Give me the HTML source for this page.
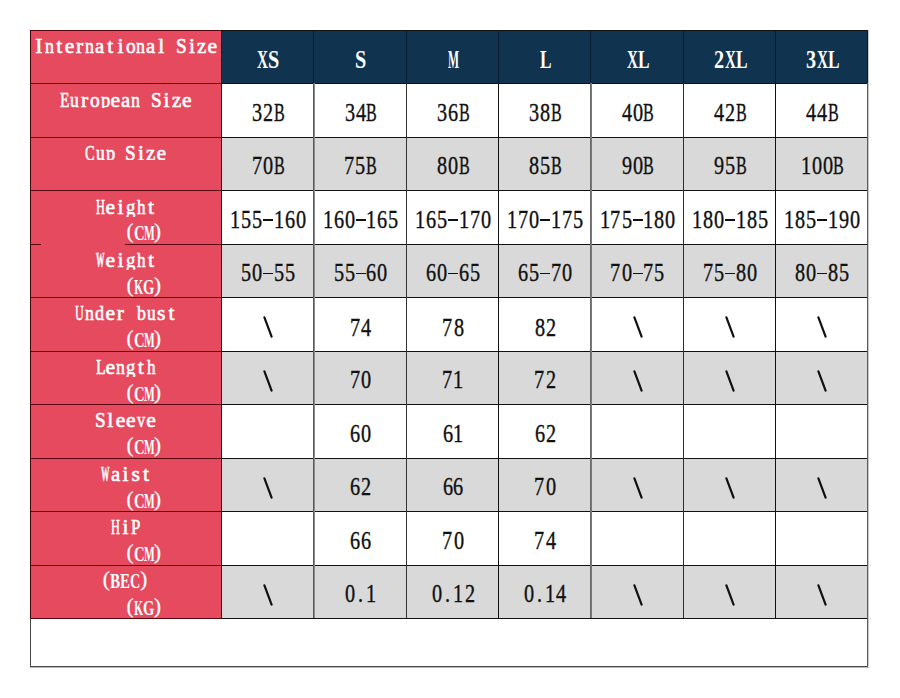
<!DOCTYPE html><html><head><meta charset="utf-8"><style>
html,body{margin:0;padding:0;background:#fff;width:900px;height:698px;overflow:hidden}
div{position:absolute}
.t{white-space:nowrap;line-height:1;height:1em}
.t span{position:absolute;top:0;display:block;text-align:center}
.t i{font-style:normal;display:inline-block}
.s{font-family:"Liberation Serif",serif}
</style></head><body>

<div style="left:30px;top:30px;width:191px;height:588px;background:#E54A5E"></div>
<div style="left:221px;top:30px;width:646px;height:53px;background:#10334F"></div>
<div style="left:221px;top:137px;width:646px;height:53px;background:#D9D9D9"></div>
<div style="left:221px;top:244px;width:646px;height:53px;background:#D9D9D9"></div>
<div style="left:221px;top:351px;width:646px;height:53px;background:#D9D9D9"></div>
<div style="left:221px;top:458px;width:646px;height:53px;background:#D9D9D9"></div>
<div style="left:221px;top:565px;width:646px;height:53px;background:#D9D9D9"></div>
<div style="left:30px;top:30px;width:192px;height:1px;background:#5a0610"></div>
<div style="left:221px;top:30px;width:647px;height:1px;background:#111"></div>
<div style="left:30px;top:83px;width:192px;height:1px;background:#5a0610"></div>
<div style="left:221px;top:83px;width:647px;height:1px;background:#111"></div>
<div style="left:30px;top:137px;width:192px;height:1px;background:#5a0610"></div>
<div style="left:221px;top:137px;width:647px;height:1px;background:#111"></div>
<div style="left:30px;top:190px;width:192px;height:1px;background:#5a0610"></div>
<div style="left:221px;top:190px;width:647px;height:1px;background:#111"></div>
<div style="left:30px;top:244px;width:11px;height:1px;background:#5a0610"></div>
<div style="left:125px;top:244px;width:97px;height:1px;background:#5a0610"></div>
<div style="left:221px;top:244px;width:647px;height:1px;background:#111"></div>
<div style="left:30px;top:297px;width:192px;height:1px;background:#5a0610"></div>
<div style="left:221px;top:297px;width:647px;height:1px;background:#111"></div>
<div style="left:30px;top:351px;width:192px;height:1px;background:#5a0610"></div>
<div style="left:221px;top:351px;width:647px;height:1px;background:#111"></div>
<div style="left:30px;top:404px;width:192px;height:1px;background:#5a0610"></div>
<div style="left:221px;top:404px;width:647px;height:1px;background:#111"></div>
<div style="left:30px;top:458px;width:192px;height:1px;background:#5a0610"></div>
<div style="left:221px;top:458px;width:647px;height:1px;background:#111"></div>
<div style="left:30px;top:511px;width:192px;height:1px;background:#5a0610"></div>
<div style="left:221px;top:511px;width:647px;height:1px;background:#111"></div>
<div style="left:30px;top:565px;width:192px;height:1px;background:#5a0610"></div>
<div style="left:221px;top:565px;width:647px;height:1px;background:#111"></div>
<div style="left:30px;top:618px;width:192px;height:1px;background:#5a0610"></div>
<div style="left:221px;top:618px;width:647px;height:1px;background:#111"></div>
<div style="left:30px;top:30px;width:1px;height:588px;background:#3e0509"></div>
<div style="left:221px;top:30px;width:1px;height:588px;background:#3e0509"></div>
<div style="left:313px;top:30px;width:1px;height:53px;background:#081a30"></div>
<div style="left:313px;top:83px;width:1px;height:535px;background:#5a5a5a"></div>
<div style="left:314px;top:83px;width:1px;height:535px;background:#8a8a8a"></div>
<div style="left:406px;top:30px;width:1px;height:53px;background:#081a30"></div>
<div style="left:406px;top:83px;width:1px;height:535px;background:#333"></div>
<div style="left:498px;top:30px;width:1px;height:53px;background:#081a30"></div>
<div style="left:498px;top:83px;width:1px;height:535px;background:#111"></div>
<div style="left:590px;top:30px;width:1px;height:53px;background:#081a30"></div>
<div style="left:590px;top:83px;width:1px;height:535px;background:#6a6a6a"></div>
<div style="left:591px;top:83px;width:1px;height:535px;background:#7a7a7a"></div>
<div style="left:683px;top:30px;width:1px;height:53px;background:#081a30"></div>
<div style="left:683px;top:83px;width:1px;height:535px;background:#2e2e2e"></div>
<div style="left:775px;top:30px;width:1px;height:53px;background:#081a30"></div>
<div style="left:775px;top:83px;width:1px;height:535px;background:#111"></div>
<div style="left:867px;top:30px;width:1px;height:53px;background:#081a30"></div>
<div style="left:867px;top:83px;width:1px;height:535px;background:#5c5c5c"></div>
<div style="left:868px;top:30px;width:1px;height:636px;background:#c8c8c8"></div>
<div style="left:30px;top:618px;width:1px;height:49px;background:#444"></div>
<div style="left:867px;top:618px;width:1px;height:49px;background:#5c5c5c"></div>
<div style="left:30px;top:666px;width:838px;height:1px;background:#4a4a4a"></div>
<div style="left:30px;top:667px;width:839px;height:1px;background:#b8b8b8"></div>
<div class="t" style="left:257.30px;top:47.92px;font-family:'Liberation Serif',serif;font-size:24.4px;font-weight:700;color:#fff;"><span style="left:-0.08px;transform-origin:0 0;transform:scale(0.622,1.0)">X</span><span style="left:10.61px;transform-origin:0 0;transform:scale(0.830,1.0)">S</span></div>
<div class="t" style="left:355.25px;top:47.92px;font-family:'Liberation Serif',serif;font-size:24.4px;font-weight:700;color:#fff;"><span style="left:-0.29px;transform-origin:0 0;transform:scale(0.830,1.0)">S</span></div>
<div class="t" style="left:447.75px;top:47.92px;font-family:'Liberation Serif',serif;font-size:24.4px;font-weight:700;color:#fff;"><span style="left:0.00px;transform-origin:0 0;transform:scale(0.479,1.0)">M</span></div>
<div class="t" style="left:539.75px;top:47.92px;font-family:'Liberation Serif',serif;font-size:24.4px;font-weight:700;color:#fff;"><span style="left:-0.10px;transform-origin:0 0;transform:scale(0.708,1.0)">L</span></div>
<div class="t" style="left:626.80px;top:47.92px;font-family:'Liberation Serif',serif;font-size:24.4px;font-weight:700;color:#fff;"><span style="left:-0.08px;transform-origin:0 0;transform:scale(0.622,1.0)">X</span><span style="left:10.80px;transform-origin:0 0;transform:scale(0.708,1.0)">L</span></div>
<div class="t" style="left:713.85px;top:47.92px;font-family:'Liberation Serif',serif;font-size:24.4px;font-weight:700;color:#fff;"><span style="left:0.40px;transform-origin:0 0;transform:scale(0.830,1.0)">2</span><span style="left:10.82px;transform-origin:0 0;transform:scale(0.622,1.0)">X</span><span style="left:21.70px;transform-origin:0 0;transform:scale(0.708,1.0)">L</span></div>
<div class="t" style="left:805.85px;top:47.92px;font-family:'Liberation Serif',serif;font-size:24.4px;font-weight:700;color:#fff;"><span style="left:0.35px;transform-origin:0 0;transform:scale(0.830,1.0)">3</span><span style="left:10.82px;transform-origin:0 0;transform:scale(0.622,1.0)">X</span><span style="left:21.70px;transform-origin:0 0;transform:scale(0.708,1.0)">L</span></div>
<div class="t" style="left:251.85px;top:100.92px;font-family:'Liberation Serif',serif;font-size:24.4px;font-weight:400;color:#111;-webkit-text-stroke:0.35px #111;"><span style="left:0.30px;transform-origin:0 0;transform:scale(0.830,1.0)">3</span><span style="left:11.40px;transform-origin:0 0;transform:scale(0.830,1.0)">2</span><span style="left:22.04px;transform-origin:0 0;transform:scale(0.661,1.0)">B</span></div>
<div class="t" style="left:344.35px;top:100.92px;font-family:'Liberation Serif',serif;font-size:24.4px;font-weight:400;color:#111;-webkit-text-stroke:0.35px #111;"><span style="left:0.30px;transform-origin:0 0;transform:scale(0.830,1.0)">3</span><span style="left:11.25px;transform-origin:0 0;transform:scale(0.830,1.0)">4</span><span style="left:22.04px;transform-origin:0 0;transform:scale(0.661,1.0)">B</span></div>
<div class="t" style="left:436.85px;top:100.92px;font-family:'Liberation Serif',serif;font-size:24.4px;font-weight:400;color:#111;-webkit-text-stroke:0.35px #111;"><span style="left:0.30px;transform-origin:0 0;transform:scale(0.830,1.0)">3</span><span style="left:11.15px;transform-origin:0 0;transform:scale(0.830,1.0)">6</span><span style="left:22.04px;transform-origin:0 0;transform:scale(0.661,1.0)">B</span></div>
<div class="t" style="left:528.85px;top:100.92px;font-family:'Liberation Serif',serif;font-size:24.4px;font-weight:400;color:#111;-webkit-text-stroke:0.35px #111;"><span style="left:0.30px;transform-origin:0 0;transform:scale(0.830,1.0)">3</span><span style="left:11.29px;transform-origin:0 0;transform:scale(0.830,1.0)">8</span><span style="left:22.04px;transform-origin:0 0;transform:scale(0.661,1.0)">B</span></div>
<div class="t" style="left:621.35px;top:100.92px;font-family:'Liberation Serif',serif;font-size:24.4px;font-weight:400;color:#111;-webkit-text-stroke:0.35px #111;"><span style="left:0.35px;transform-origin:0 0;transform:scale(0.830,1.0)">4</span><span style="left:11.29px;transform-origin:0 0;transform:scale(0.830,1.0)">0</span><span style="left:22.04px;transform-origin:0 0;transform:scale(0.661,1.0)">B</span></div>
<div class="t" style="left:713.85px;top:100.92px;font-family:'Liberation Serif',serif;font-size:24.4px;font-weight:400;color:#111;-webkit-text-stroke:0.35px #111;"><span style="left:0.35px;transform-origin:0 0;transform:scale(0.830,1.0)">4</span><span style="left:11.40px;transform-origin:0 0;transform:scale(0.830,1.0)">2</span><span style="left:22.04px;transform-origin:0 0;transform:scale(0.661,1.0)">B</span></div>
<div class="t" style="left:805.85px;top:100.92px;font-family:'Liberation Serif',serif;font-size:24.4px;font-weight:400;color:#111;-webkit-text-stroke:0.35px #111;"><span style="left:0.35px;transform-origin:0 0;transform:scale(0.830,1.0)">4</span><span style="left:11.25px;transform-origin:0 0;transform:scale(0.830,1.0)">4</span><span style="left:22.04px;transform-origin:0 0;transform:scale(0.661,1.0)">B</span></div>
<div class="t" style="left:251.85px;top:154.42px;font-family:'Liberation Serif',serif;font-size:24.4px;font-weight:400;color:#111;-webkit-text-stroke:0.35px #111;"><span style="left:0.01px;transform-origin:0 0;transform:scale(0.830,1.0)">7</span><span style="left:11.29px;transform-origin:0 0;transform:scale(0.830,1.0)">0</span><span style="left:22.04px;transform-origin:0 0;transform:scale(0.661,1.0)">B</span></div>
<div class="t" style="left:344.35px;top:154.42px;font-family:'Liberation Serif',serif;font-size:24.4px;font-weight:400;color:#111;-webkit-text-stroke:0.35px #111;"><span style="left:0.01px;transform-origin:0 0;transform:scale(0.830,1.0)">7</span><span style="left:11.09px;transform-origin:0 0;transform:scale(0.830,1.0)">5</span><span style="left:22.04px;transform-origin:0 0;transform:scale(0.661,1.0)">B</span></div>
<div class="t" style="left:436.85px;top:154.42px;font-family:'Liberation Serif',serif;font-size:24.4px;font-weight:400;color:#111;-webkit-text-stroke:0.35px #111;"><span style="left:0.39px;transform-origin:0 0;transform:scale(0.830,1.0)">8</span><span style="left:11.29px;transform-origin:0 0;transform:scale(0.830,1.0)">0</span><span style="left:22.04px;transform-origin:0 0;transform:scale(0.661,1.0)">B</span></div>
<div class="t" style="left:528.85px;top:154.42px;font-family:'Liberation Serif',serif;font-size:24.4px;font-weight:400;color:#111;-webkit-text-stroke:0.35px #111;"><span style="left:0.39px;transform-origin:0 0;transform:scale(0.830,1.0)">8</span><span style="left:11.09px;transform-origin:0 0;transform:scale(0.830,1.0)">5</span><span style="left:22.04px;transform-origin:0 0;transform:scale(0.661,1.0)">B</span></div>
<div class="t" style="left:621.35px;top:154.42px;font-family:'Liberation Serif',serif;font-size:24.4px;font-weight:400;color:#111;-webkit-text-stroke:0.35px #111;"><span style="left:0.48px;transform-origin:0 0;transform:scale(0.830,1.0)">9</span><span style="left:11.29px;transform-origin:0 0;transform:scale(0.830,1.0)">0</span><span style="left:22.04px;transform-origin:0 0;transform:scale(0.661,1.0)">B</span></div>
<div class="t" style="left:713.85px;top:154.42px;font-family:'Liberation Serif',serif;font-size:24.4px;font-weight:400;color:#111;-webkit-text-stroke:0.35px #111;"><span style="left:0.48px;transform-origin:0 0;transform:scale(0.830,1.0)">9</span><span style="left:11.09px;transform-origin:0 0;transform:scale(0.830,1.0)">5</span><span style="left:22.04px;transform-origin:0 0;transform:scale(0.661,1.0)">B</span></div>
<div class="t" style="left:800.40px;top:154.42px;font-family:'Liberation Serif',serif;font-size:24.4px;font-weight:400;color:#111;-webkit-text-stroke:0.35px #111;"><span style="left:0.11px;transform-origin:0 0;transform:scale(0.830,1.0)">1</span><span style="left:11.29px;transform-origin:0 0;transform:scale(0.830,1.0)">0</span><span style="left:22.19px;transform-origin:0 0;transform:scale(0.830,1.0)">0</span><span style="left:32.94px;transform-origin:0 0;transform:scale(0.661,1.0)">B</span></div>
<div class="t" style="left:230.05px;top:207.92px;font-family:'Liberation Serif',serif;font-size:24.4px;font-weight:400;color:#111;-webkit-text-stroke:0.35px #111;"><span style="left:0.11px;transform-origin:0 0;transform:scale(0.830,1.0)">1</span><span style="left:11.09px;transform-origin:0 0;transform:scale(0.830,1.0)">5</span><span style="left:21.99px;transform-origin:0 0;transform:scale(0.830,1.0)">5</span><b style="position:absolute;left:33.00px;top:11.13px;width:10.3px;height:1.9px;background:#111"></b><span style="left:43.71px;transform-origin:0 0;transform:scale(0.830,1.0)">1</span><span style="left:54.75px;transform-origin:0 0;transform:scale(0.830,1.0)">6</span><span style="left:65.79px;transform-origin:0 0;transform:scale(0.830,1.0)">0</span></div>
<div class="t" style="left:322.55px;top:207.92px;font-family:'Liberation Serif',serif;font-size:24.4px;font-weight:400;color:#111;-webkit-text-stroke:0.35px #111;"><span style="left:0.11px;transform-origin:0 0;transform:scale(0.830,1.0)">1</span><span style="left:11.15px;transform-origin:0 0;transform:scale(0.830,1.0)">6</span><span style="left:22.19px;transform-origin:0 0;transform:scale(0.830,1.0)">0</span><b style="position:absolute;left:33.00px;top:11.13px;width:10.3px;height:1.9px;background:#111"></b><span style="left:43.71px;transform-origin:0 0;transform:scale(0.830,1.0)">1</span><span style="left:54.75px;transform-origin:0 0;transform:scale(0.830,1.0)">6</span><span style="left:65.59px;transform-origin:0 0;transform:scale(0.830,1.0)">5</span></div>
<div class="t" style="left:415.05px;top:207.92px;font-family:'Liberation Serif',serif;font-size:24.4px;font-weight:400;color:#111;-webkit-text-stroke:0.35px #111;"><span style="left:0.11px;transform-origin:0 0;transform:scale(0.830,1.0)">1</span><span style="left:11.15px;transform-origin:0 0;transform:scale(0.830,1.0)">6</span><span style="left:21.99px;transform-origin:0 0;transform:scale(0.830,1.0)">5</span><b style="position:absolute;left:33.00px;top:11.13px;width:10.3px;height:1.9px;background:#111"></b><span style="left:43.71px;transform-origin:0 0;transform:scale(0.830,1.0)">1</span><span style="left:54.51px;transform-origin:0 0;transform:scale(0.830,1.0)">7</span><span style="left:65.79px;transform-origin:0 0;transform:scale(0.830,1.0)">0</span></div>
<div class="t" style="left:507.05px;top:207.92px;font-family:'Liberation Serif',serif;font-size:24.4px;font-weight:400;color:#111;-webkit-text-stroke:0.35px #111;"><span style="left:0.11px;transform-origin:0 0;transform:scale(0.830,1.0)">1</span><span style="left:10.91px;transform-origin:0 0;transform:scale(0.830,1.0)">7</span><span style="left:22.19px;transform-origin:0 0;transform:scale(0.830,1.0)">0</span><b style="position:absolute;left:33.00px;top:11.13px;width:10.3px;height:1.9px;background:#111"></b><span style="left:43.71px;transform-origin:0 0;transform:scale(0.830,1.0)">1</span><span style="left:54.51px;transform-origin:0 0;transform:scale(0.830,1.0)">7</span><span style="left:65.59px;transform-origin:0 0;transform:scale(0.830,1.0)">5</span></div>
<div class="t" style="left:599.55px;top:207.92px;font-family:'Liberation Serif',serif;font-size:24.4px;font-weight:400;color:#111;-webkit-text-stroke:0.35px #111;"><span style="left:0.11px;transform-origin:0 0;transform:scale(0.830,1.0)">1</span><span style="left:10.91px;transform-origin:0 0;transform:scale(0.830,1.0)">7</span><span style="left:21.99px;transform-origin:0 0;transform:scale(0.830,1.0)">5</span><b style="position:absolute;left:33.00px;top:11.13px;width:10.3px;height:1.9px;background:#111"></b><span style="left:43.71px;transform-origin:0 0;transform:scale(0.830,1.0)">1</span><span style="left:54.89px;transform-origin:0 0;transform:scale(0.830,1.0)">8</span><span style="left:65.79px;transform-origin:0 0;transform:scale(0.830,1.0)">0</span></div>
<div class="t" style="left:692.05px;top:207.92px;font-family:'Liberation Serif',serif;font-size:24.4px;font-weight:400;color:#111;-webkit-text-stroke:0.35px #111;"><span style="left:0.11px;transform-origin:0 0;transform:scale(0.830,1.0)">1</span><span style="left:11.29px;transform-origin:0 0;transform:scale(0.830,1.0)">8</span><span style="left:22.19px;transform-origin:0 0;transform:scale(0.830,1.0)">0</span><b style="position:absolute;left:33.00px;top:11.13px;width:10.3px;height:1.9px;background:#111"></b><span style="left:43.71px;transform-origin:0 0;transform:scale(0.830,1.0)">1</span><span style="left:54.89px;transform-origin:0 0;transform:scale(0.830,1.0)">8</span><span style="left:65.59px;transform-origin:0 0;transform:scale(0.830,1.0)">5</span></div>
<div class="t" style="left:784.05px;top:207.92px;font-family:'Liberation Serif',serif;font-size:24.4px;font-weight:400;color:#111;-webkit-text-stroke:0.35px #111;"><span style="left:0.11px;transform-origin:0 0;transform:scale(0.830,1.0)">1</span><span style="left:11.29px;transform-origin:0 0;transform:scale(0.830,1.0)">8</span><span style="left:21.99px;transform-origin:0 0;transform:scale(0.830,1.0)">5</span><b style="position:absolute;left:33.00px;top:11.13px;width:10.3px;height:1.9px;background:#111"></b><span style="left:43.71px;transform-origin:0 0;transform:scale(0.830,1.0)">1</span><span style="left:54.98px;transform-origin:0 0;transform:scale(0.830,1.0)">9</span><span style="left:65.79px;transform-origin:0 0;transform:scale(0.830,1.0)">0</span></div>
<div class="t" style="left:240.95px;top:261.42px;font-family:'Liberation Serif',serif;font-size:24.4px;font-weight:400;color:#111;-webkit-text-stroke:0.35px #111;"><span style="left:0.19px;transform-origin:0 0;transform:scale(0.830,1.0)">5</span><span style="left:11.29px;transform-origin:0 0;transform:scale(0.830,1.0)">0</span><b style="position:absolute;left:22.10px;top:11.13px;width:10.3px;height:1.9px;background:#111"></b><span style="left:32.89px;transform-origin:0 0;transform:scale(0.830,1.0)">5</span><span style="left:43.79px;transform-origin:0 0;transform:scale(0.830,1.0)">5</span></div>
<div class="t" style="left:333.45px;top:261.42px;font-family:'Liberation Serif',serif;font-size:24.4px;font-weight:400;color:#111;-webkit-text-stroke:0.35px #111;"><span style="left:0.19px;transform-origin:0 0;transform:scale(0.830,1.0)">5</span><span style="left:11.09px;transform-origin:0 0;transform:scale(0.830,1.0)">5</span><b style="position:absolute;left:22.10px;top:11.13px;width:10.3px;height:1.9px;background:#111"></b><span style="left:32.95px;transform-origin:0 0;transform:scale(0.830,1.0)">6</span><span style="left:43.99px;transform-origin:0 0;transform:scale(0.830,1.0)">0</span></div>
<div class="t" style="left:425.95px;top:261.42px;font-family:'Liberation Serif',serif;font-size:24.4px;font-weight:400;color:#111;-webkit-text-stroke:0.35px #111;"><span style="left:0.25px;transform-origin:0 0;transform:scale(0.830,1.0)">6</span><span style="left:11.29px;transform-origin:0 0;transform:scale(0.830,1.0)">0</span><b style="position:absolute;left:22.10px;top:11.13px;width:10.3px;height:1.9px;background:#111"></b><span style="left:32.95px;transform-origin:0 0;transform:scale(0.830,1.0)">6</span><span style="left:43.79px;transform-origin:0 0;transform:scale(0.830,1.0)">5</span></div>
<div class="t" style="left:517.95px;top:261.42px;font-family:'Liberation Serif',serif;font-size:24.4px;font-weight:400;color:#111;-webkit-text-stroke:0.35px #111;"><span style="left:0.25px;transform-origin:0 0;transform:scale(0.830,1.0)">6</span><span style="left:11.09px;transform-origin:0 0;transform:scale(0.830,1.0)">5</span><b style="position:absolute;left:22.10px;top:11.13px;width:10.3px;height:1.9px;background:#111"></b><span style="left:32.71px;transform-origin:0 0;transform:scale(0.830,1.0)">7</span><span style="left:43.99px;transform-origin:0 0;transform:scale(0.830,1.0)">0</span></div>
<div class="t" style="left:610.45px;top:261.42px;font-family:'Liberation Serif',serif;font-size:24.4px;font-weight:400;color:#111;-webkit-text-stroke:0.35px #111;"><span style="left:0.01px;transform-origin:0 0;transform:scale(0.830,1.0)">7</span><span style="left:11.29px;transform-origin:0 0;transform:scale(0.830,1.0)">0</span><b style="position:absolute;left:22.10px;top:11.13px;width:10.3px;height:1.9px;background:#111"></b><span style="left:32.71px;transform-origin:0 0;transform:scale(0.830,1.0)">7</span><span style="left:43.79px;transform-origin:0 0;transform:scale(0.830,1.0)">5</span></div>
<div class="t" style="left:702.95px;top:261.42px;font-family:'Liberation Serif',serif;font-size:24.4px;font-weight:400;color:#111;-webkit-text-stroke:0.35px #111;"><span style="left:0.01px;transform-origin:0 0;transform:scale(0.830,1.0)">7</span><span style="left:11.09px;transform-origin:0 0;transform:scale(0.830,1.0)">5</span><b style="position:absolute;left:22.10px;top:11.13px;width:10.3px;height:1.9px;background:#111"></b><span style="left:33.09px;transform-origin:0 0;transform:scale(0.830,1.0)">8</span><span style="left:43.99px;transform-origin:0 0;transform:scale(0.830,1.0)">0</span></div>
<div class="t" style="left:794.95px;top:261.42px;font-family:'Liberation Serif',serif;font-size:24.4px;font-weight:400;color:#111;-webkit-text-stroke:0.35px #111;"><span style="left:0.39px;transform-origin:0 0;transform:scale(0.830,1.0)">8</span><span style="left:11.29px;transform-origin:0 0;transform:scale(0.830,1.0)">0</span><b style="position:absolute;left:22.10px;top:11.13px;width:10.3px;height:1.9px;background:#111"></b><span style="left:33.09px;transform-origin:0 0;transform:scale(0.830,1.0)">8</span><span style="left:43.79px;transform-origin:0 0;transform:scale(0.830,1.0)">5</span></div>
<svg style="position:absolute;left:262.20px;top:315.30px" width="12" height="24"><line x1="2.4" y1="2.3000000000000007" x2="9.6" y2="21.7" stroke="#111" stroke-width="2.2" stroke-linecap="round"/></svg>
<div class="t" style="left:349.80px;top:315.62px;font-family:'Liberation Serif',serif;font-size:24.4px;font-weight:400;color:#111;-webkit-text-stroke:0.35px #111;"><span style="left:0.01px;transform-origin:0 0;transform:scale(0.830,1.0)">7</span><span style="left:11.25px;transform-origin:0 0;transform:scale(0.830,1.0)">4</span></div>
<div class="t" style="left:442.30px;top:315.62px;font-family:'Liberation Serif',serif;font-size:24.4px;font-weight:400;color:#111;-webkit-text-stroke:0.35px #111;"><span style="left:0.01px;transform-origin:0 0;transform:scale(0.830,1.0)">7</span><span style="left:11.29px;transform-origin:0 0;transform:scale(0.830,1.0)">8</span></div>
<div class="t" style="left:534.30px;top:315.62px;font-family:'Liberation Serif',serif;font-size:24.4px;font-weight:400;color:#111;-webkit-text-stroke:0.35px #111;"><span style="left:0.39px;transform-origin:0 0;transform:scale(0.830,1.0)">8</span><span style="left:11.40px;transform-origin:0 0;transform:scale(0.830,1.0)">2</span></div>
<svg style="position:absolute;left:631.70px;top:315.30px" width="12" height="24"><line x1="2.4" y1="2.3000000000000007" x2="9.6" y2="21.7" stroke="#111" stroke-width="2.2" stroke-linecap="round"/></svg>
<svg style="position:absolute;left:724.20px;top:315.30px" width="12" height="24"><line x1="2.4" y1="2.3000000000000007" x2="9.6" y2="21.7" stroke="#111" stroke-width="2.2" stroke-linecap="round"/></svg>
<svg style="position:absolute;left:816.20px;top:315.30px" width="12" height="24"><line x1="2.4" y1="2.3000000000000007" x2="9.6" y2="21.7" stroke="#111" stroke-width="2.2" stroke-linecap="round"/></svg>
<svg style="position:absolute;left:262.20px;top:368.80px" width="12" height="24"><line x1="2.4" y1="2.3000000000000007" x2="9.6" y2="21.7" stroke="#111" stroke-width="2.2" stroke-linecap="round"/></svg>
<div class="t" style="left:349.80px;top:368.42px;font-family:'Liberation Serif',serif;font-size:24.4px;font-weight:400;color:#111;-webkit-text-stroke:0.35px #111;"><span style="left:0.01px;transform-origin:0 0;transform:scale(0.830,1.0)">7</span><span style="left:11.29px;transform-origin:0 0;transform:scale(0.830,1.0)">0</span></div>
<div class="t" style="left:442.30px;top:368.42px;font-family:'Liberation Serif',serif;font-size:24.4px;font-weight:400;color:#111;-webkit-text-stroke:0.35px #111;"><span style="left:0.01px;transform-origin:0 0;transform:scale(0.830,1.0)">7</span><span style="left:11.01px;transform-origin:0 0;transform:scale(0.830,1.0)">1</span></div>
<div class="t" style="left:534.30px;top:368.42px;font-family:'Liberation Serif',serif;font-size:24.4px;font-weight:400;color:#111;-webkit-text-stroke:0.35px #111;"><span style="left:0.01px;transform-origin:0 0;transform:scale(0.830,1.0)">7</span><span style="left:11.40px;transform-origin:0 0;transform:scale(0.830,1.0)">2</span></div>
<svg style="position:absolute;left:631.70px;top:368.80px" width="12" height="24"><line x1="2.4" y1="2.3000000000000007" x2="9.6" y2="21.7" stroke="#111" stroke-width="2.2" stroke-linecap="round"/></svg>
<svg style="position:absolute;left:724.20px;top:368.80px" width="12" height="24"><line x1="2.4" y1="2.3000000000000007" x2="9.6" y2="21.7" stroke="#111" stroke-width="2.2" stroke-linecap="round"/></svg>
<svg style="position:absolute;left:816.20px;top:368.80px" width="12" height="24"><line x1="2.4" y1="2.3000000000000007" x2="9.6" y2="21.7" stroke="#111" stroke-width="2.2" stroke-linecap="round"/></svg>
<div class="t" style="left:349.80px;top:421.92px;font-family:'Liberation Serif',serif;font-size:24.4px;font-weight:400;color:#111;-webkit-text-stroke:0.35px #111;"><span style="left:0.25px;transform-origin:0 0;transform:scale(0.830,1.0)">6</span><span style="left:11.29px;transform-origin:0 0;transform:scale(0.830,1.0)">0</span></div>
<div class="t" style="left:442.30px;top:421.92px;font-family:'Liberation Serif',serif;font-size:24.4px;font-weight:400;color:#111;-webkit-text-stroke:0.35px #111;"><span style="left:0.25px;transform-origin:0 0;transform:scale(0.830,1.0)">6</span><span style="left:11.01px;transform-origin:0 0;transform:scale(0.830,1.0)">1</span></div>
<div class="t" style="left:534.30px;top:421.92px;font-family:'Liberation Serif',serif;font-size:24.4px;font-weight:400;color:#111;-webkit-text-stroke:0.35px #111;"><span style="left:0.25px;transform-origin:0 0;transform:scale(0.830,1.0)">6</span><span style="left:11.40px;transform-origin:0 0;transform:scale(0.830,1.0)">2</span></div>
<svg style="position:absolute;left:262.20px;top:475.80px" width="12" height="24"><line x1="2.4" y1="2.3000000000000007" x2="9.6" y2="21.7" stroke="#111" stroke-width="2.2" stroke-linecap="round"/></svg>
<div class="t" style="left:349.80px;top:475.42px;font-family:'Liberation Serif',serif;font-size:24.4px;font-weight:400;color:#111;-webkit-text-stroke:0.35px #111;"><span style="left:0.25px;transform-origin:0 0;transform:scale(0.830,1.0)">6</span><span style="left:11.40px;transform-origin:0 0;transform:scale(0.830,1.0)">2</span></div>
<div class="t" style="left:442.30px;top:475.42px;font-family:'Liberation Serif',serif;font-size:24.4px;font-weight:400;color:#111;-webkit-text-stroke:0.35px #111;"><span style="left:0.25px;transform-origin:0 0;transform:scale(0.830,1.0)">6</span><span style="left:11.15px;transform-origin:0 0;transform:scale(0.830,1.0)">6</span></div>
<div class="t" style="left:534.30px;top:475.42px;font-family:'Liberation Serif',serif;font-size:24.4px;font-weight:400;color:#111;-webkit-text-stroke:0.35px #111;"><span style="left:0.01px;transform-origin:0 0;transform:scale(0.830,1.0)">7</span><span style="left:11.29px;transform-origin:0 0;transform:scale(0.830,1.0)">0</span></div>
<svg style="position:absolute;left:631.70px;top:475.80px" width="12" height="24"><line x1="2.4" y1="2.3000000000000007" x2="9.6" y2="21.7" stroke="#111" stroke-width="2.2" stroke-linecap="round"/></svg>
<svg style="position:absolute;left:724.20px;top:475.80px" width="12" height="24"><line x1="2.4" y1="2.3000000000000007" x2="9.6" y2="21.7" stroke="#111" stroke-width="2.2" stroke-linecap="round"/></svg>
<svg style="position:absolute;left:816.20px;top:475.80px" width="12" height="24"><line x1="2.4" y1="2.3000000000000007" x2="9.6" y2="21.7" stroke="#111" stroke-width="2.2" stroke-linecap="round"/></svg>
<div class="t" style="left:349.80px;top:528.92px;font-family:'Liberation Serif',serif;font-size:24.4px;font-weight:400;color:#111;-webkit-text-stroke:0.35px #111;"><span style="left:0.25px;transform-origin:0 0;transform:scale(0.830,1.0)">6</span><span style="left:11.15px;transform-origin:0 0;transform:scale(0.830,1.0)">6</span></div>
<div class="t" style="left:442.30px;top:528.92px;font-family:'Liberation Serif',serif;font-size:24.4px;font-weight:400;color:#111;-webkit-text-stroke:0.35px #111;"><span style="left:0.01px;transform-origin:0 0;transform:scale(0.830,1.0)">7</span><span style="left:11.29px;transform-origin:0 0;transform:scale(0.830,1.0)">0</span></div>
<div class="t" style="left:534.30px;top:528.92px;font-family:'Liberation Serif',serif;font-size:24.4px;font-weight:400;color:#111;-webkit-text-stroke:0.35px #111;"><span style="left:0.01px;transform-origin:0 0;transform:scale(0.830,1.0)">7</span><span style="left:11.25px;transform-origin:0 0;transform:scale(0.830,1.0)">4</span></div>
<svg style="position:absolute;left:262.20px;top:582.80px" width="12" height="24"><line x1="2.4" y1="2.3000000000000007" x2="9.6" y2="21.7" stroke="#111" stroke-width="2.2" stroke-linecap="round"/></svg>
<div class="t" style="left:344.35px;top:582.42px;font-family:'Liberation Serif',serif;font-size:24.4px;font-weight:400;color:#111;-webkit-text-stroke:0.35px #111;"><span style="left:0.39px;transform-origin:0 0;transform:scale(0.830,1.0)">0</span><span style="left:13.82px;transform-origin:0 0;transform:scale(0.830,1.0)">.</span><span style="left:21.91px;transform-origin:0 0;transform:scale(0.830,1.0)">1</span></div>
<div class="t" style="left:431.40px;top:582.42px;font-family:'Liberation Serif',serif;font-size:24.4px;font-weight:400;color:#111;-webkit-text-stroke:0.35px #111;"><span style="left:0.39px;transform-origin:0 0;transform:scale(0.830,1.0)">0</span><span style="left:13.82px;transform-origin:0 0;transform:scale(0.830,1.0)">.</span><span style="left:21.91px;transform-origin:0 0;transform:scale(0.830,1.0)">1</span><span style="left:33.20px;transform-origin:0 0;transform:scale(0.830,1.0)">2</span></div>
<div class="t" style="left:523.40px;top:582.42px;font-family:'Liberation Serif',serif;font-size:24.4px;font-weight:400;color:#111;-webkit-text-stroke:0.35px #111;"><span style="left:0.39px;transform-origin:0 0;transform:scale(0.830,1.0)">0</span><span style="left:13.82px;transform-origin:0 0;transform:scale(0.830,1.0)">.</span><span style="left:21.91px;transform-origin:0 0;transform:scale(0.830,1.0)">1</span><span style="left:33.05px;transform-origin:0 0;transform:scale(0.830,1.0)">4</span></div>
<svg style="position:absolute;left:631.70px;top:582.80px" width="12" height="24"><line x1="2.4" y1="2.3000000000000007" x2="9.6" y2="21.7" stroke="#111" stroke-width="2.2" stroke-linecap="round"/></svg>
<svg style="position:absolute;left:724.20px;top:582.80px" width="12" height="24"><line x1="2.4" y1="2.3000000000000007" x2="9.6" y2="21.7" stroke="#111" stroke-width="2.2" stroke-linecap="round"/></svg>
<svg style="position:absolute;left:816.20px;top:582.80px" width="12" height="24"><line x1="2.4" y1="2.3000000000000007" x2="9.6" y2="21.7" stroke="#111" stroke-width="2.2" stroke-linecap="round"/></svg>
<div class="t" style="left:33.80px;top:35.90px;font-family:'Liberation Serif',serif;font-size:21.5px;font-weight:400;color:#fff;-webkit-text-stroke:0.6px #fff;"><span style="left:1.51px;transform-origin:0 0;transform:scale(1.000,1.0)">I</span><span style="left:10.79px;transform-origin:0 0;transform:scale(0.826,1.0)">n</span><span style="left:22.47px;transform-origin:0 0;transform:scale(1.000,1.0)">t</span><span style="left:30.88px;transform-origin:0 0;transform:scale(1.000,1.0)">e</span><span style="left:42.20px;transform-origin:0 0;transform:scale(1.000,1.0)">r</span><span style="left:51.59px;transform-origin:0 0;transform:scale(0.826,1.0)">n</span><span style="left:61.47px;transform-origin:0 0;transform:scale(0.966,1.0)">a</span><span style="left:73.47px;transform-origin:0 0;transform:scale(1.000,1.0)">t</span><span style="left:83.69px;transform-origin:0 0;transform:scale(1.000,1.0)">i</span><span style="left:92.06px;transform-origin:0 0;transform:scale(0.900,1.0)">o</span><span style="left:102.59px;transform-origin:0 0;transform:scale(0.826,1.0)">n</span><span style="left:112.47px;transform-origin:0 0;transform:scale(0.966,1.0)">a</span><span style="left:124.51px;transform-origin:0 0;transform:scale(1.000,1.0)">l</span><span style="left:142.52px;transform-origin:0 0;transform:scale(0.893,1.0)">S</span><span style="left:155.09px;transform-origin:0 0;transform:scale(1.000,1.0)">i</span><span style="left:163.63px;transform-origin:0 0;transform:scale(0.980,1.0)">z</span><span style="left:173.68px;transform-origin:0 0;transform:scale(1.000,1.0)">e</span></div>
<div class="t" style="left:59.30px;top:89.60px;font-family:'Liberation Serif',serif;font-size:21.5px;font-weight:400;color:#fff;-webkit-text-stroke:0.6px #fff;height:18.80px;overflow:hidden;width:300px;"><span style="left:0.56px;transform-origin:0 0;transform:scale(0.717,1.0)">E</span><span style="left:10.97px;transform-origin:0 0;transform:scale(0.812,1.0)">u</span><span style="left:21.80px;transform-origin:0 0;transform:scale(1.000,1.0)">r</span><span style="left:30.86px;transform-origin:0 0;transform:scale(0.900,1.0)">o</span><span style="left:41.50px;transform-origin:0 0;transform:scale(0.857,1.0)">p</span><span style="left:51.28px;transform-origin:0 0;transform:scale(1.000,1.0)">e</span><span style="left:61.47px;transform-origin:0 0;transform:scale(0.966,1.0)">a</span><span style="left:71.99px;transform-origin:0 0;transform:scale(0.826,1.0)">n</span><span style="left:91.52px;transform-origin:0 0;transform:scale(0.893,1.0)">S</span><span style="left:104.09px;transform-origin:0 0;transform:scale(1.000,1.0)">i</span><span style="left:112.63px;transform-origin:0 0;transform:scale(0.980,1.0)">z</span><span style="left:122.68px;transform-origin:0 0;transform:scale(1.000,1.0)">e</span></div>
<div class="t" style="left:84.80px;top:143.00px;font-family:'Liberation Serif',serif;font-size:21.5px;font-weight:400;color:#fff;-webkit-text-stroke:0.6px #fff;height:17.40px;overflow:hidden;width:300px;"><span style="left:0.41px;transform-origin:0 0;transform:scale(0.668,1.0)">C</span><span style="left:10.97px;transform-origin:0 0;transform:scale(0.812,1.0)">u</span><span style="left:21.10px;transform-origin:0 0;transform:scale(0.857,1.0)">p</span><span style="left:40.52px;transform-origin:0 0;transform:scale(0.893,1.0)">S</span><span style="left:53.09px;transform-origin:0 0;transform:scale(1.000,1.0)">i</span><span style="left:61.63px;transform-origin:0 0;transform:scale(0.980,1.0)">z</span><span style="left:71.68px;transform-origin:0 0;transform:scale(1.000,1.0)">e</span></div>
<div class="t" style="left:95.00px;top:196.90px;font-family:'Liberation Serif',serif;font-size:21.5px;font-weight:400;color:#fff;-webkit-text-stroke:0.6px #fff;height:19.90px;overflow:hidden;width:300px;"><span style="left:0.64px;transform-origin:0 0;transform:scale(0.574,1.0)">H</span><span style="left:10.48px;transform-origin:0 0;transform:scale(1.000,1.0)">e</span><span style="left:22.49px;transform-origin:0 0;transform:scale(1.000,1.0)">i</span><span style="left:30.80px;transform-origin:0 0;transform:scale(0.871,1.0)">g</span><span style="left:41.63px;transform-origin:0 0;transform:scale(0.799,1.0)">h</span><span style="left:53.07px;transform-origin:0 0;transform:scale(1.000,1.0)">t</span></div>
<div class="t" style="left:126.40px;top:221.21px;font-family:'Liberation Serif',serif;font-size:21px;font-weight:400;color:#fff;-webkit-text-stroke:0.3px #fff;"><span style="left:-0.02px;transform-origin:0 0;transform:scale(1.000,1.0)">(</span><span style="left:27.63px;transform-origin:0 0;transform:scale(1.000,1.0)">)</span></div>
<div class="t" style="left:126.40px;top:223.01px;font-family:'Liberation Serif',serif;font-size:21px;font-weight:700;color:#fff;"><span style="left:7.48px;transform-origin:0 0;transform:scale(0.702,1.0)">C</span><span style="left:17.21px;transform-origin:0 0;transform:scale(0.541,1.0)">M</span></div>
<div class="t" style="left:95.00px;top:249.80px;font-family:'Liberation Serif',serif;font-size:21.5px;font-weight:400;color:#fff;-webkit-text-stroke:0.6px #fff;height:20.70px;overflow:hidden;width:300px;"><span style="font-weight:700;left:0.88px;transform-origin:0 0;transform:scale(0.393,1.0)">W</span><span style="left:10.48px;transform-origin:0 0;transform:scale(1.000,1.0)">e</span><span style="left:22.49px;transform-origin:0 0;transform:scale(1.000,1.0)">i</span><span style="left:30.80px;transform-origin:0 0;transform:scale(0.871,1.0)">g</span><span style="left:41.63px;transform-origin:0 0;transform:scale(0.799,1.0)">h</span><span style="left:53.07px;transform-origin:0 0;transform:scale(1.000,1.0)">t</span></div>
<div class="t" style="left:126.40px;top:275.21px;font-family:'Liberation Serif',serif;font-size:21px;font-weight:400;color:#fff;-webkit-text-stroke:0.3px #fff;"><span style="left:-0.02px;transform-origin:0 0;transform:scale(1.000,1.0)">(</span><span style="left:27.63px;transform-origin:0 0;transform:scale(1.000,1.0)">)</span></div>
<div class="t" style="left:126.40px;top:277.01px;font-family:'Liberation Serif',serif;font-size:21px;font-weight:700;color:#fff;"><span style="left:8.00px;transform-origin:0 0;transform:scale(0.557,1.0)">K</span><span style="left:16.69px;transform-origin:0 0;transform:scale(0.692,1.0)">G</span></div>
<div class="t" style="left:74.60px;top:303.00px;font-family:'Liberation Serif',serif;font-size:21.5px;font-weight:400;color:#fff;-webkit-text-stroke:0.6px #fff;"><span style="left:0.75px;transform-origin:0 0;transform:scale(0.561,1.0)">U</span><span style="left:10.79px;transform-origin:0 0;transform:scale(0.826,1.0)">n</span><span style="left:20.74px;transform-origin:0 0;transform:scale(0.844,1.0)">d</span><span style="left:30.88px;transform-origin:0 0;transform:scale(1.000,1.0)">e</span><span style="left:42.20px;transform-origin:0 0;transform:scale(1.000,1.0)">r</span><span style="left:62.20px;transform-origin:0 0;transform:scale(0.826,1.0)">b</span><span style="left:72.17px;transform-origin:0 0;transform:scale(0.812,1.0)">u</span><span style="left:82.46px;transform-origin:0 0;transform:scale(1.000,1.0)">s</span><span style="left:93.87px;transform-origin:0 0;transform:scale(1.000,1.0)">t</span></div>
<div class="t" style="left:126.40px;top:328.21px;font-family:'Liberation Serif',serif;font-size:21px;font-weight:400;color:#fff;-webkit-text-stroke:0.3px #fff;"><span style="left:-0.02px;transform-origin:0 0;transform:scale(1.000,1.0)">(</span><span style="left:27.63px;transform-origin:0 0;transform:scale(1.000,1.0)">)</span></div>
<div class="t" style="left:126.40px;top:330.01px;font-family:'Liberation Serif',serif;font-size:21px;font-weight:700;color:#fff;"><span style="left:7.48px;transform-origin:0 0;transform:scale(0.702,1.0)">C</span><span style="left:17.21px;transform-origin:0 0;transform:scale(0.541,1.0)">M</span></div>
<div class="t" style="left:95.00px;top:356.80px;font-family:'Liberation Serif',serif;font-size:21.5px;font-weight:400;color:#fff;-webkit-text-stroke:0.6px #fff;height:20.20px;overflow:hidden;width:300px;"><span style="left:0.55px;transform-origin:0 0;transform:scale(0.731,1.0)">L</span><span style="left:10.48px;transform-origin:0 0;transform:scale(1.000,1.0)">e</span><span style="left:20.99px;transform-origin:0 0;transform:scale(0.826,1.0)">n</span><span style="left:30.80px;transform-origin:0 0;transform:scale(0.871,1.0)">g</span><span style="left:42.87px;transform-origin:0 0;transform:scale(1.000,1.0)">t</span><span style="left:51.83px;transform-origin:0 0;transform:scale(0.799,1.0)">h</span></div>
<div class="t" style="left:126.40px;top:382.21px;font-family:'Liberation Serif',serif;font-size:21px;font-weight:400;color:#fff;-webkit-text-stroke:0.3px #fff;"><span style="left:-0.02px;transform-origin:0 0;transform:scale(1.000,1.0)">(</span><span style="left:27.63px;transform-origin:0 0;transform:scale(1.000,1.0)">)</span></div>
<div class="t" style="left:126.40px;top:384.01px;font-family:'Liberation Serif',serif;font-size:21px;font-weight:700;color:#fff;"><span style="left:7.48px;transform-origin:0 0;transform:scale(0.702,1.0)">C</span><span style="left:17.21px;transform-origin:0 0;transform:scale(0.541,1.0)">M</span></div>
<div class="t" style="left:95.00px;top:409.80px;font-family:'Liberation Serif',serif;font-size:21.5px;font-weight:400;color:#fff;-webkit-text-stroke:0.6px #fff;"><span style="left:-0.28px;transform-origin:0 0;transform:scale(0.893,1.0)">S</span><span style="left:12.31px;transform-origin:0 0;transform:scale(1.000,1.0)">l</span><span style="left:20.68px;transform-origin:0 0;transform:scale(1.000,1.0)">e</span><span style="left:30.88px;transform-origin:0 0;transform:scale(1.000,1.0)">e</span><span style="left:41.80px;transform-origin:0 0;transform:scale(0.763,1.0)">v</span><span style="left:51.28px;transform-origin:0 0;transform:scale(1.000,1.0)">e</span></div>
<div class="t" style="left:126.40px;top:435.21px;font-family:'Liberation Serif',serif;font-size:21px;font-weight:400;color:#fff;-webkit-text-stroke:0.3px #fff;"><span style="left:-0.02px;transform-origin:0 0;transform:scale(1.000,1.0)">(</span><span style="left:27.63px;transform-origin:0 0;transform:scale(1.000,1.0)">)</span></div>
<div class="t" style="left:126.40px;top:437.01px;font-family:'Liberation Serif',serif;font-size:21px;font-weight:700;color:#fff;"><span style="left:7.48px;transform-origin:0 0;transform:scale(0.702,1.0)">C</span><span style="left:17.21px;transform-origin:0 0;transform:scale(0.541,1.0)">M</span></div>
<div class="t" style="left:100.10px;top:464.00px;font-family:'Liberation Serif',serif;font-size:21.5px;font-weight:400;color:#fff;-webkit-text-stroke:0.6px #fff;"><span style="font-weight:700;left:0.88px;transform-origin:0 0;transform:scale(0.393,1.0)">W</span><span style="left:10.47px;transform-origin:0 0;transform:scale(0.966,1.0)">a</span><span style="left:22.49px;transform-origin:0 0;transform:scale(1.000,1.0)">i</span><span style="left:31.46px;transform-origin:0 0;transform:scale(1.000,1.0)">s</span><span style="left:42.87px;transform-origin:0 0;transform:scale(1.000,1.0)">t</span></div>
<div class="t" style="left:126.40px;top:489.21px;font-family:'Liberation Serif',serif;font-size:21px;font-weight:400;color:#fff;-webkit-text-stroke:0.3px #fff;"><span style="left:-0.02px;transform-origin:0 0;transform:scale(1.000,1.0)">(</span><span style="left:27.63px;transform-origin:0 0;transform:scale(1.000,1.0)">)</span></div>
<div class="t" style="left:126.40px;top:491.01px;font-family:'Liberation Serif',serif;font-size:21px;font-weight:700;color:#fff;"><span style="left:7.48px;transform-origin:0 0;transform:scale(0.702,1.0)">C</span><span style="left:17.21px;transform-origin:0 0;transform:scale(0.541,1.0)">M</span></div>
<div class="t" style="left:110.30px;top:516.60px;font-family:'Liberation Serif',serif;font-size:21.5px;font-weight:400;color:#fff;-webkit-text-stroke:0.6px #fff;"><span style="left:0.64px;transform-origin:0 0;transform:scale(0.574,1.0)">H</span><span style="left:12.29px;transform-origin:0 0;transform:scale(1.000,1.0)">i</span><span style="left:20.92px;transform-origin:0 0;transform:scale(0.783,1.0)">P</span></div>
<div class="t" style="left:126.40px;top:542.21px;font-family:'Liberation Serif',serif;font-size:21px;font-weight:400;color:#fff;-webkit-text-stroke:0.3px #fff;"><span style="left:-0.02px;transform-origin:0 0;transform:scale(1.000,1.0)">(</span><span style="left:27.63px;transform-origin:0 0;transform:scale(1.000,1.0)">)</span></div>
<div class="t" style="left:126.40px;top:544.01px;font-family:'Liberation Serif',serif;font-size:21px;font-weight:700;color:#fff;"><span style="left:7.48px;transform-origin:0 0;transform:scale(0.702,1.0)">C</span><span style="left:17.21px;transform-origin:0 0;transform:scale(0.541,1.0)">M</span></div>
<div class="t" style="left:0.00px;top:568.61px;font-family:'Liberation Serif',serif;font-size:21px;font-weight:400;color:#fff;-webkit-text-stroke:0.3px #fff;"><span style="left:102.68px;transform-origin:0 0;transform:scale(1.000,1.0)">(</span><span style="left:140.33px;transform-origin:0 0;transform:scale(1.000,1.0)">)</span></div>
<div class="t" style="left:0.00px;top:571.21px;font-family:'Liberation Serif',serif;font-size:21px;font-weight:700;color:#fff;"><span style="left:109.75px;transform-origin:0 0;transform:scale(0.719,1.0)">B</span><span style="left:119.90px;transform-origin:0 0;transform:scale(0.708,1.0)">E</span><span style="left:130.05px;transform-origin:0 0;transform:scale(0.678,1.0)">C</span></div>
<div class="t" style="left:126.40px;top:596.21px;font-family:'Liberation Serif',serif;font-size:21px;font-weight:400;color:#fff;-webkit-text-stroke:0.3px #fff;"><span style="left:-0.02px;transform-origin:0 0;transform:scale(1.000,1.0)">(</span><span style="left:27.63px;transform-origin:0 0;transform:scale(1.000,1.0)">)</span></div>
<div class="t" style="left:126.40px;top:598.01px;font-family:'Liberation Serif',serif;font-size:21px;font-weight:700;color:#fff;"><span style="left:8.00px;transform-origin:0 0;transform:scale(0.557,1.0)">K</span><span style="left:16.69px;transform-origin:0 0;transform:scale(0.692,1.0)">G</span></div>
</body></html>
